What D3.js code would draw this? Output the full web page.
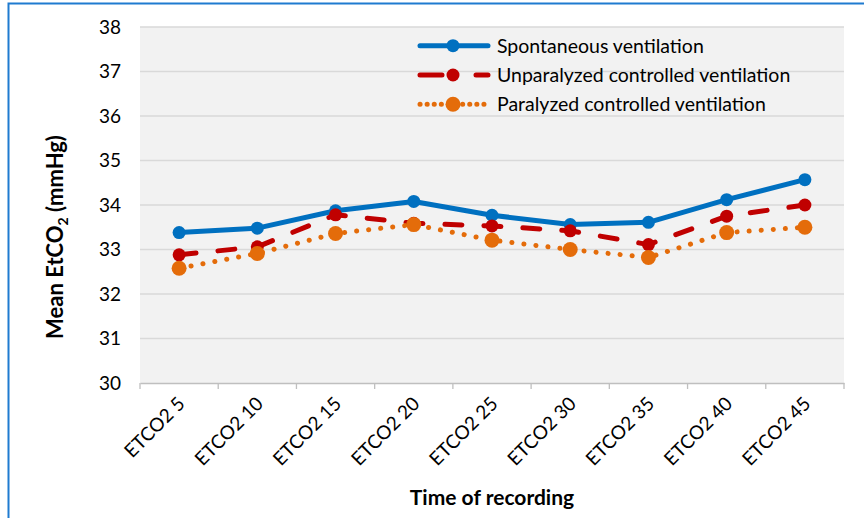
<!DOCTYPE html>
<html>
<head>
<meta charset="utf-8">
<script src="https://cdn.jsdelivr.net/npm/d3@7"></script>
<style>
  body { margin: 0; background: #fff; }
  svg text { font-family: Lato, "Noto Sans", sans-serif; fill: #000; }
</style>
</head>
<body>
<script>
var categories = ["ETCO2 5", "ETCO2 10", "ETCO2 15", "ETCO2 20", "ETCO2 25", "ETCO2 30", "ETCO2 35", "ETCO2 40", "ETCO2 45"];
var spontaneous = [33.38, 33.48, 33.87, 34.08, 33.77, 33.56, 33.61, 34.12, 34.57];
var unparalyzed = [32.88, 33.06, 33.78, 33.59, 33.53, 33.42, 33.11, 33.75, 34.0];
var paralyzed = [32.58, 32.91, 33.36, 33.56, 33.21, 33.0, 32.82, 33.38, 33.5];
var yTicks = [30, 31, 32, 33, 34, 35, 36, 37, 38];

var series = [
  { name: "Spontaneous ventilation", values: spontaneous, color: "#0070c0", dash: null, r: 6.5 },
  { name: "Unparalyzed controlled ventilation", values: unparalyzed, color: "#c00000", dash: "17,22", r: 6.5 },
  { name: "Paralyzed controlled ventilation", values: paralyzed, color: "#e46c0a", dash: "0.1,12", r: 7.5 }
];

var width = 864, height = 518;

var svg = d3.select("body").append("svg")
  .attr("width", width).attr("height", height);

// outer border
svg.append("rect")
  .attr("x", 8.5).attr("y", 3.5).attr("width", width).attr("height", height)
  .attr("fill", "none").attr("stroke", "#1f7bd0").attr("stroke-width", 2);

var x = d3.scaleBand().domain(categories).range([140, 844]);
var y = d3.scaleLinear().domain([30, 38]).range([383, 27]);

var g = svg.append("g");

g.append("rect")
  .attr("x", 140).attr("y", y(38)).attr("width", 704).attr("height", y(30) - y(38))
  .attr("fill", "#f2f2f2");

// gridlines
g.selectAll(".grid").data(yTicks.slice(1)).enter().append("line")
  .attr("x1", 140).attr("x2", 844)
  .attr("y1", function(d) { return y(d); }).attr("y2", function(d) { return y(d); })
  .attr("stroke", "#d9d9d9").attr("stroke-width", 1.3);

// y tick labels
g.selectAll(".ylab").data(yTicks).enter().append("text")
  .attr("x", 121).attr("y", function(d) { return y(d); })
  .attr("dy", "0.36em").attr("text-anchor", "end")
  .style("font-size", "19px")
  .text(function(d) { return d; });

// x axis
var xAxis = d3.axisBottom(x).tickSize(0).tickFormat("");
var xa = g.append("g").attr("transform", "translate(0,383)").call(xAxis);
xa.select(".domain").attr("stroke", "#bfbfbf").attr("stroke-width", 1.3);
var bounds = categories.map(function(c) { return x(c); }).concat([844]);
g.selectAll(".xtick").data(bounds).enter().append("line")
  .attr("x1", function(d) { return d; }).attr("x2", function(d) { return d; })
  .attr("y1", 383).attr("y2", 389)
  .attr("stroke", "#bfbfbf").attr("stroke-width", 1.3);

g.selectAll(".xlab").data(categories).enter().append("text")
  .attr("transform", function(d) {
    return "translate(" + (x(d) + x.bandwidth() / 2 + 7) + ",405) rotate(-45)";
  })
  .attr("text-anchor", "end")
  .style("font-size", "19px")
  .text(function(d) { return d; });

// lines
var line = d3.line()
  .x(function(d, i) { return x(categories[i]) + x.bandwidth() / 2; })
  .y(function(d) { return y(d); });

series.forEach(function(s) {
  g.append("path").datum(s.values)
    .attr("d", line)
    .attr("fill", "none")
    .attr("stroke", s.color)
    .attr("stroke-width", 5)
    .attr("stroke-linecap", "round")
    .attr("stroke-linejoin", "round")
    .attr("stroke-dasharray", s.dash);
  g.selectAll(null).data(s.values).enter().append("circle")
    .attr("cx", function(d, i) { return x(categories[i]) + x.bandwidth() / 2; })
    .attr("cy", function(d) { return y(d); })
    .attr("r", s.r)
    .attr("fill", s.color);
});

// legend
var legY = [45.7, 75, 104.3];
series.forEach(function(s, i) {
  var lg = svg.append("g").attr("transform", "translate(0," + legY[i] + ")");
  lg.append("line")
    .attr("x1", 420).attr("x2", 488).attr("y1", 0).attr("y2", 0)
    .attr("stroke", s.color).attr("stroke-width", 5)
    .attr("stroke-linecap", "round")
    .attr("stroke-dasharray", s.dash ? (i === 1 ? "22,34" : "0.1,7") : null);
  lg.append("circle").attr("cx", 453).attr("cy", 0).attr("r", s.r).attr("fill", s.color);
  lg.append("text").attr("x", 497).attr("y", 0).attr("dy", "0.36em")
    .style("font-size", "19.5px")
    .text(s.name);
});

// axis titles
svg.append("text")
  .attr("transform", "translate(63,237) rotate(-90)")
  .attr("text-anchor", "middle")
  .style("font-size", "22px").style("font-weight", "bold")
  .html('Mean EtCO<tspan dy="5" font-size="14px">2</tspan><tspan dy="-5"> (mmHg)</tspan>');

svg.append("text")
  .attr("x", 492).attr("y", 505)
  .attr("text-anchor", "middle")
  .style("font-size", "21px").style("font-weight", "bold")
  .text("Time of recording");
</script>
</body>
</html>
